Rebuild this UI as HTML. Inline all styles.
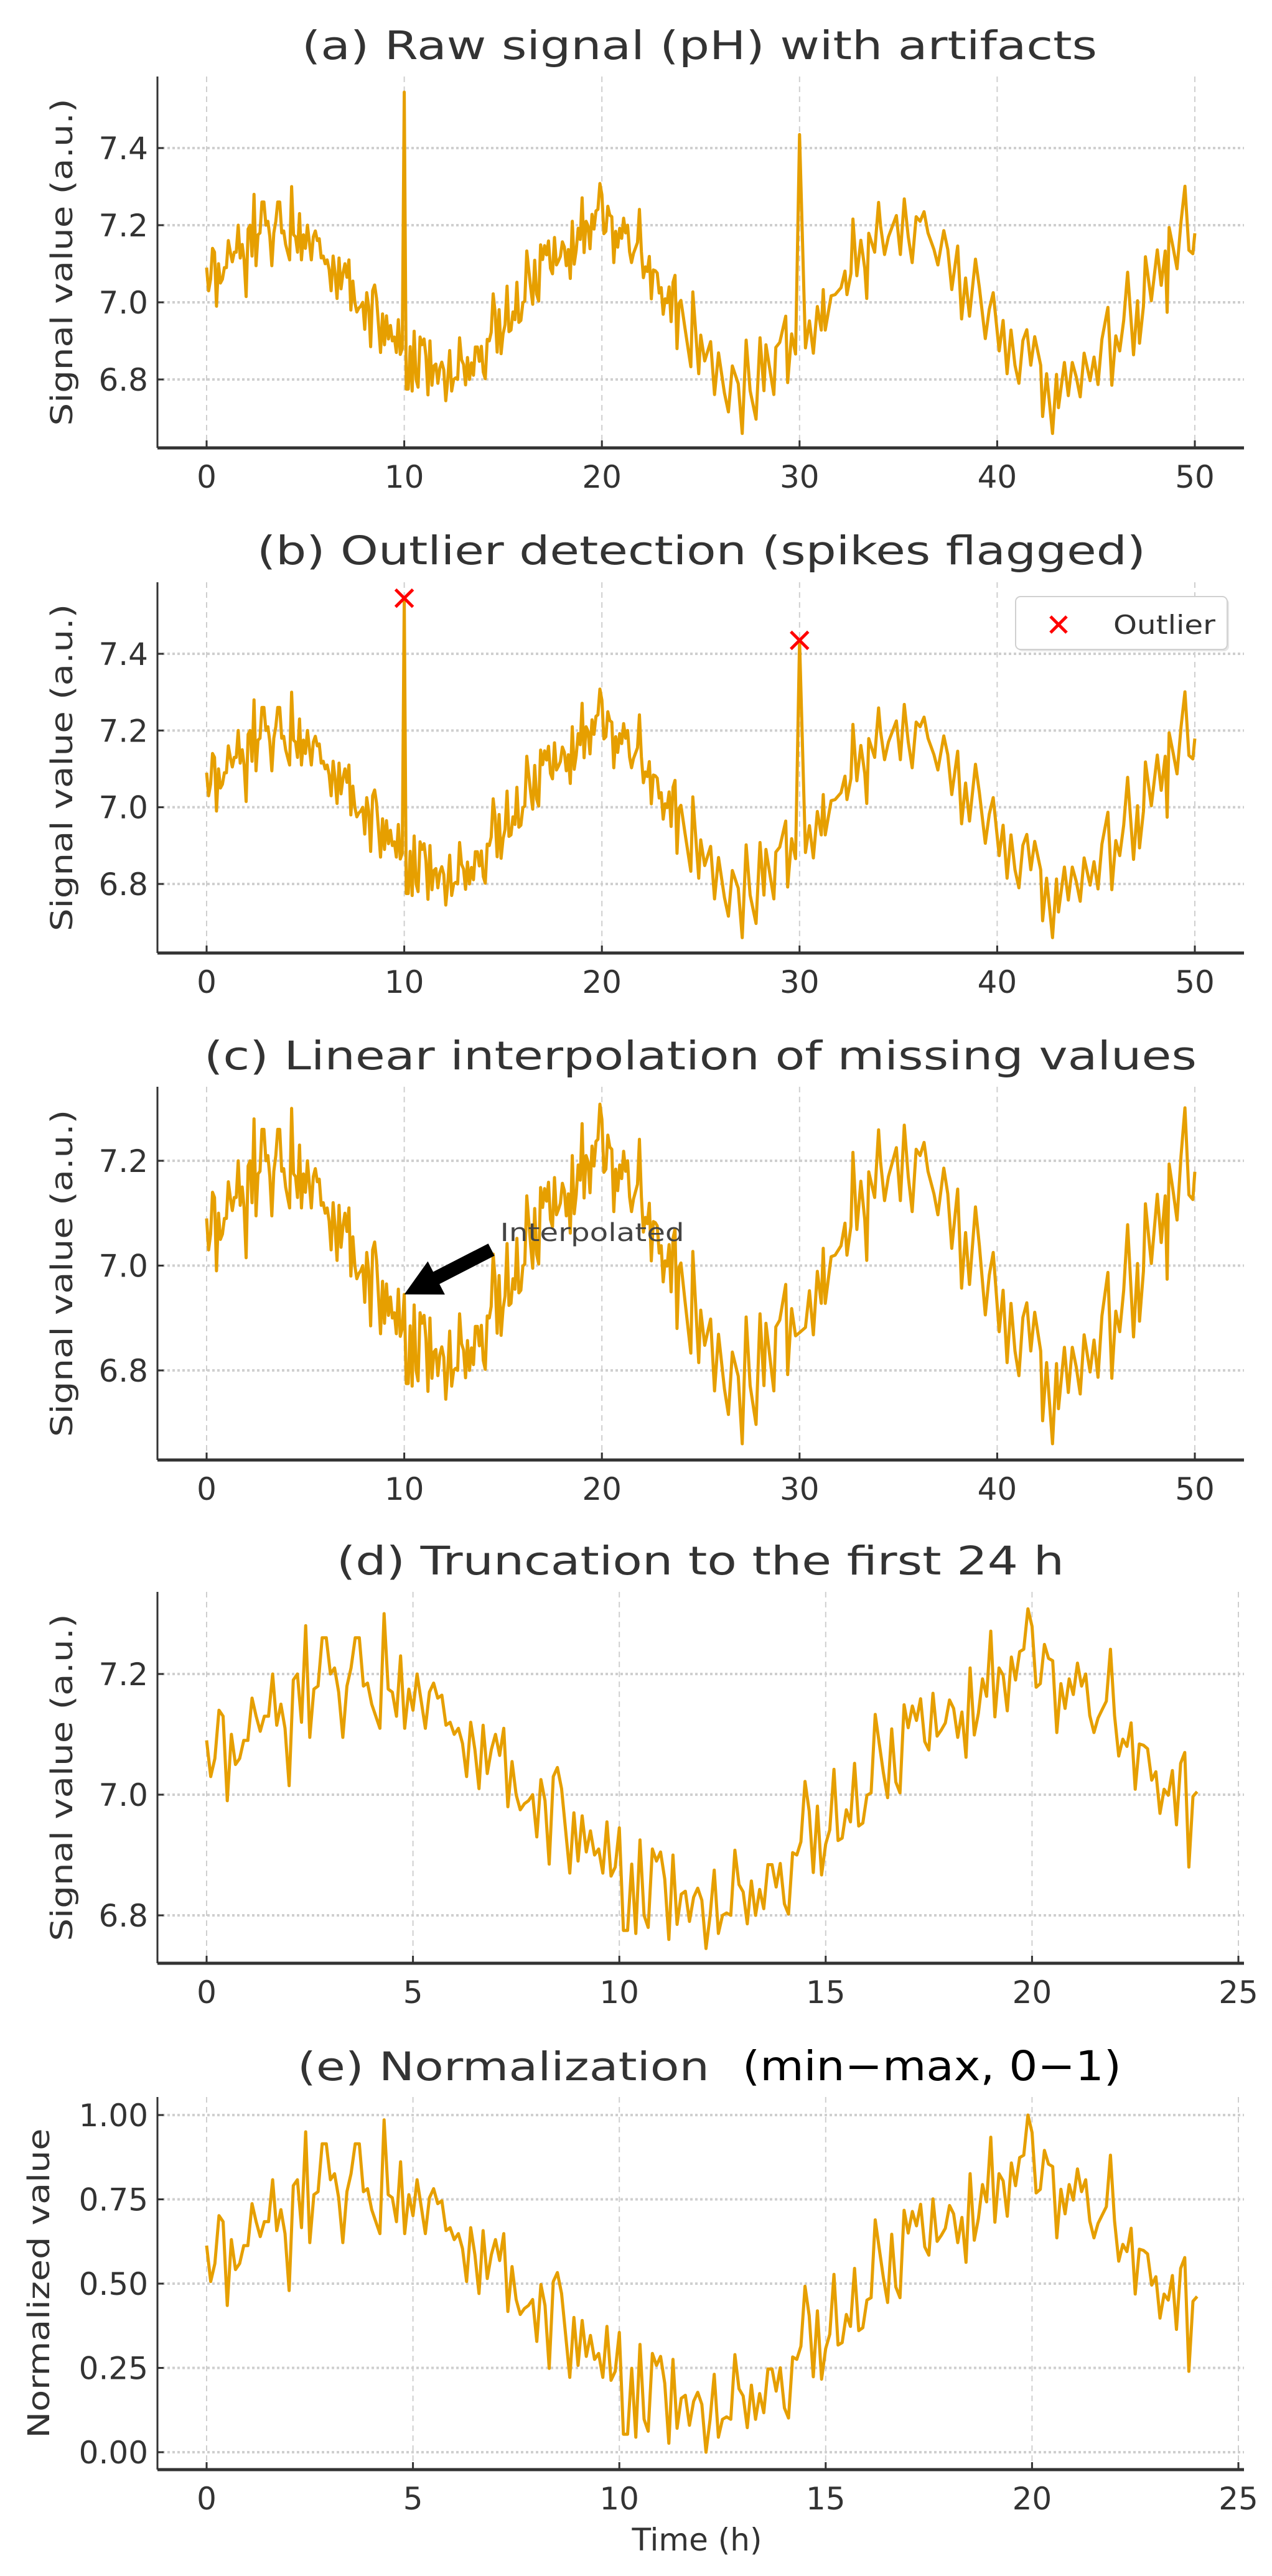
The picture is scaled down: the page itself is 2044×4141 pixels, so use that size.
<!DOCTYPE html>
<html><head><meta charset="utf-8"><style>
html,body{margin:0;padding:0;background:#fff;}
svg{display:block;}
text{font-family:"DejaVu Sans","Liberation Sans",sans-serif;}
</style></head>
<body>
<svg id="fig" xmlns="http://www.w3.org/2000/svg" width="2044" height="4141" viewBox="0 0 2044 4141">
<rect x="0" y="0" width="2044" height="4141" fill="#fff"/>
</svg>
<script>
// ---- data ----
const first24Values = [
7.09,7.03,7.06,7.14,7.13,6.99,7.10,7.05,7.06,7.09,
7.09,7.16,7.13,7.105,7.13,7.13,7.20,7.115,7.15,7.11,
7.015,7.19,7.20,7.12,7.28,7.095,7.175,7.18,7.26,7.26,
7.20,7.21,7.17,7.095,7.18,7.21,7.26,7.26,7.18,7.185,
7.15,7.13,7.11,7.30,7.175,7.17,7.13,7.23,7.11,7.175,
7.14,7.20,7.155,7.11,7.17,7.185,7.16,7.165,7.115,7.12,
7.10,7.11,7.085,7.03,7.12,7.075,7.01,7.115,7.035,7.075,
7.10,7.065,7.11,6.98,7.055,7.0,6.975,6.985,6.99,7.0,
6.93,7.025,6.99,6.885,7.03,7.045,7.01,6.94,6.87,6.97,
6.89,6.965,6.905,6.94,6.90,6.91,6.87,6.955,6.865,6.88,
6.945,
6.775,6.775,6.885,6.77,6.925,6.80,6.78,6.91,6.89,6.905,
6.86,6.76,6.90,6.785,6.835,6.84,6.79,6.83,6.845,6.825,
6.745,6.80,6.875,6.77,6.80,
6.804,6.80,6.908,6.851,6.839,6.786,6.857,6.80,6.843,6.811,
6.884,6.884,6.847,6.886,6.819,6.802,6.904,6.90,6.922,7.022,
6.973,6.871,6.981,6.867,6.918,6.942,7.042,6.924,6.928,6.975,
6.955,7.052,6.948,6.953,6.999,7.003,7.133,7.084,7.036,6.995,
7.109,7.021,7.003,7.149,7.111,7.147,7.123,7.159,7.088,7.074,
7.168,7.097,7.107,7.119,7.157,7.143,7.095,7.137,7.062,7.21,
7.099,7.135,7.192,7.163,7.271,7.129,7.21,7.198,7.139,7.228,
7.19,7.237,7.241,7.308,7.279,7.178,7.184,7.249,7.226,7.222,
7.103,7.184,7.143,7.192,7.166,7.218,7.18,7.20,7.131,7.103,
7.127,7.141,7.155,7.241,7.131,7.064,7.092,7.08,7.119,7.009,
7.084,7.082,7.076,7.024,7.038,6.969,7.009,6.999,7.04,6.95,
7.052,7.07,6.88,6.997,7.005
];
const first24Step = 0.1;
const laterHours = [24.2,24.5,24.6,24.9,25.0,25.2,25.5,25.7,25.9,26.2,26.4,26.6,26.9,27.1,27.3,27.5,27.8,28.0,28.2,28.3,28.7,28.8,29.0,29.3,29.4,29.6,29.8,30.0,30.3,30.5,30.7,30.9,31.1,31.2,31.3,31.6,31.8,32.1,32.3,32.4,32.6,32.7,32.9,33.1,33.3,33.4,33.5,33.8,34.0,34.1,34.3,34.5,34.9,35.1,35.3,35.5,35.7,35.9,36.1,36.3,36.5,36.8,37.0,37.3,37.5,37.7,38.0,38.2,38.4,38.6,38.9,39.1,39.4,39.6,39.8,40.1,40.3,40.5,40.7,40.9,41.1,41.3,41.5,41.7,41.9,42.2,42.3,42.5,42.8,43.0,43.1,43.4,43.6,43.8,44.0,44.2,44.4,44.7,44.9,45.1,45.3,45.6,45.8,46.0,46.2,46.4,46.6,46.9,47.1,47.2,47.4,47.5,47.8,48.1,48.3,48.5,48.6,48.7,48.9,49.1,49.3,49.5,49.7,49.9,50.0];
const laterValues = [6.934,6.833,7.027,6.815,6.915,6.848,6.898,6.761,6.869,6.765,6.716,6.835,6.789,6.660,6.902,6.771,6.697,6.908,6.771,6.890,6.761,6.883,6.896,6.964,6.792,6.918,6.866,6.872,6.882,6.952,6.868,6.989,6.928,7.033,6.928,7.017,7.020,7.038,7.081,7.020,7.075,7.216,7.069,7.161,7.088,7.010,7.179,7.130,7.259,7.198,7.124,7.170,7.225,7.124,7.268,7.170,7.103,7.222,7.210,7.235,7.180,7.137,7.097,7.186,7.137,7.033,7.146,6.957,7.063,6.964,7.112,7.038,6.906,6.982,7.025,6.874,6.953,6.815,6.928,6.837,6.790,6.901,6.929,6.837,6.911,6.837,6.704,6.815,6.660,6.813,6.727,6.844,6.758,6.844,6.807,6.755,6.868,6.797,6.858,6.787,6.904,6.987,6.785,6.913,6.874,6.953,7.078,6.864,7.004,6.894,6.989,7.118,7.004,7.136,7.044,7.133,6.974,7.194,7.142,7.087,7.209,7.301,7.135,7.126,7.179];
const spikeHours = [10, 30];
const spikeValues = [7.545, 7.435];
const xTicksFull = [0,10,20,30,40,50];
const xTicksDay = [0,5,10,15,20,25];
const yTicksRaw = [6.8,7.0,7.2,7.4];
const yTicksClean = [6.8,7.0,7.2];
const yTicksNorm = [0,0.25,0.5,0.75,1.0];
const yTickNormLabels = ["0.00","0.25","0.50","0.75","1.00"];
const annotHour = 10;

// ---- derived series ----
const cleanHours = first24Values.map((v,i)=>+(i*first24Step).toFixed(2)).concat(laterHours);
const cleanValues = first24Values.concat(laterValues);
const rawValues = cleanValues.map((v,i)=>{
  const k = spikeHours.findIndex(h=>Math.abs(h-cleanHours[i])<1e-6);
  return k>=0 ? spikeValues[k] : v;
});
const dayHours = cleanHours.filter(h=>h<=24.0001);
const dayValues = cleanValues.slice(0, dayHours.length);
const vmin = Math.min(...dayValues), vmax = Math.max(...dayValues);
const normValues = dayValues.map(v=>(v-vmin)/(vmax-vmin));

// ---- layout ----
const NS = "http://www.w3.org/2000/svg";
const svg = document.getElementById('fig');
const LEFT = 253, RIGHT = 1999, X0PX = 332;
const ORANGE = "#E69F00";
function mk(tag, attrs, parent){
  const e = document.createElementNS(NS, tag);
  for (const k in attrs) e.setAttribute(k, attrs[k]);
  (parent||svg).appendChild(e);
  return e;
}
const panels = [
 {id:'a', top:123, bottom:720, ya:[7.4,238], yb:[6.8,610], xmax:50, xmaxPx:1920, xt:xTicksFull, yt:yTicksRaw, yl:null,
  title:"(a) Raw signal (pH) with artifacts", tx:[485,1763], tb:95, hours:cleanHours, values:rawValues, ylabel:"Signal value (a.u.)"},
 {id:'b', top:936, bottom:1532, ya:[7.4,1051], yb:[6.8,1421], xmax:50, xmaxPx:1920, xt:xTicksFull, yt:yTicksRaw, yl:null,
  title:"(b) Outlier detection (spikes flagged)", tx:[413,1841], tb:907, hours:cleanHours, values:rawValues, ylabel:"Signal value (a.u.)"},
 {id:'c', top:1747, bottom:2347, ya:[7.2,1866], yb:[6.8,2203], xmax:50, xmaxPx:1920, xt:xTicksFull, yt:yTicksClean, yl:null,
  title:"(c) Linear interpolation of missing values", tx:[328,1923], tb:1719, hours:cleanHours, values:cleanValues, ylabel:"Signal value (a.u.)"},
 {id:'d', top:2559, bottom:3156, ya:[7.2,2691], yb:[6.8,3079], xmax:25, xmaxPx:1990, xt:xTicksDay, yt:yTicksClean, yl:null,
  title:"(d) Truncation to the first 24 h", tx:[541,1710], tb:2531, hours:dayHours, values:dayValues, ylabel:"Signal value (a.u.)"},
 {id:'e', top:3371, bottom:3970, ya:[1.0,3400], yb:[0.0,3942], xmax:25, xmaxPx:1990, xt:xTicksDay, yt:yTicksNorm, yl:yTickNormLabels,
  title:null, hours:dayHours, values:normValues, ylabel:"Normalized value"}
];

panels.forEach(p=>{
  const g = mk('g', {});
  
  
  const xs = t => X0PX + t*(p.xmaxPx - X0PX)/p.xmax;
  const k = (p.yb[1]-p.ya[1])/(p.yb[0]-p.ya[0]);
  const ys = v => p.ya[1] + (v - p.ya[0])*k;
  p.xs = xs; p.ys = ys; p.g = g;
  // grid
  p.xt.forEach(t=>{
    const l = mk('line',{x1:xs(t),x2:xs(t),y1:p.top,y2:p.bottom,stroke:'#cfcfcf','stroke-width':2,'stroke-dasharray':'9 7'},g);
    
    
  });
  p.yt.forEach(v=>{
    const l = mk('line',{x1:LEFT,x2:RIGHT,y1:ys(v),y2:ys(v),stroke:'#cfcfcf','stroke-width':4,'stroke-dasharray':'4 4'},g);
    
    
  });
  // series
  const pts = p.hours.map((h,i)=>xs(h).toFixed(1)+','+ys(p.values[i]).toFixed(1)).join(' ');
  const line = mk('polyline',{points:pts,fill:'none',stroke:ORANGE,'stroke-width':5,'stroke-linejoin':'round'},g);
  
  
  // spines
  const ls = mk('line',{x1:LEFT,x2:LEFT,y1:p.top,y2:p.bottom,stroke:'#333','stroke-width':3},g);
  
  
  const bs = mk('line',{x1:LEFT,x2:RIGHT,y1:p.bottom,y2:p.bottom,stroke:'#333','stroke-width':5},g);
  
  
  // x ticks
  p.xt.forEach(t=>{
    const tm = mk('line',{x1:xs(t),x2:xs(t),y1:p.bottom-12,y2:p.bottom,stroke:'#333','stroke-width':3},g);
    
    
    const tl = mk('text',{x:xs(t),y:p.bottom+64,'text-anchor':'middle','font-size':50,fill:'#333'},g);
    tl.textContent = String(t);
    
    
  });
  // y ticks
  p.yt.forEach((v,i)=>{
    const tm = mk('line',{x1:LEFT,x2:LEFT+10,y1:ys(v),y2:ys(v),stroke:'#333','stroke-width':3},g);
    
    
    const tl = mk('text',{x:238,y:ys(v)+18,'text-anchor':'end','font-size':50,fill:'#333'},g);
    tl.textContent = p.yl ? p.yl[i] : v.toFixed(1);
    
    
  });
  // y label
  const cy = (p.top+p.bottom)/2;
  const bx = p.id==='e' ? 79 : 116;
  const len = p.id==='e' ? 498 : 526;
  const yl = mk('text',{x:0,y:0,transform:`translate(${bx},${cy}) rotate(-90)`,'text-anchor':'middle','font-size':48,fill:'#333',textLength:len,lengthAdjust:'spacingAndGlyphs'},g);
  yl.textContent = p.ylabel;
  
  
  // title
  if (p.title){
    const t = mk('text',{x:p.tx[0],y:p.tb,'font-size':63,fill:'#333',textLength:p.tx[1]-p.tx[0],lengthAdjust:'spacingAndGlyphs'},g);
    t.textContent = p.title;
    
    
  }
});

// panel e title (two parts)
{
  const g = panels[4].g;
  const t1 = mk('text',{x:478,y:3344,'font-size':63,fill:'#333',textLength:662,lengthAdjust:'spacingAndGlyphs'},g);
  t1.textContent = "(e) Normalization";
  
  
  const t2 = mk('text',{x:1193,y:3344,'font-size':66,fill:'#000',textLength:609,lengthAdjust:'spacingAndGlyphs'},g);
  t2.textContent = "(min\u2212max, 0\u22121)";
  
  
  const xl = mk('text',{x:1120,y:4100,'text-anchor':'middle','font-size':50,fill:'#333'},g);
  xl.textContent = "Time (h)";
  
  
}

// outlier markers + legend (panel b)
{
  const p = panels[1], g = p.g;
  spikeHours.forEach((h,i)=>{
    const cx = p.xs(h), cy = p.ys(spikeValues[i]), s = 14;
    const m = mk('path',{d:`M${cx-s},${cy-s}L${cx+s},${cy+s}M${cx-s},${cy+s}L${cx+s},${cy-s}`,stroke:'#ff0000','stroke-width':5,fill:'none'},g);
    
    
  });
  const lg = mk('g',{},g);
  
  
  mk('rect',{x:1635,y:962,width:340,height:85,rx:8,fill:'#e6e6e6'},lg);
  const box = mk('rect',{x:1632,y:959,width:340,height:85,rx:8,fill:'#fff',stroke:'#d0d0d0','stroke-width':2},lg);
  
  
  const s=13, cx=1701, cy=1004;
  const lm = mk('path',{d:`M${cx-s},${cy-s}L${cx+s},${cy+s}M${cx-s},${cy+s}L${cx+s},${cy-s}`,stroke:'#ff0000','stroke-width':5},lg);
  
  
  const lt = mk('text',{x:1789,y:1019,'font-size':42,fill:'#333',textLength:164,lengthAdjust:'spacingAndGlyphs'},lg);
  lt.textContent = "Outlier";
  
  
}

// annotation (panel c)
{
  const p = panels[2], g = p.g;
  const idx = cleanHours.findIndex(h=>Math.abs(h-annotHour)<1e-6);
  const tipX = p.xs(annotHour), tipY = p.ys(cleanValues[idx]);
  const tailX = tipX + 140, tailY = tipY - 72;
  const dx = tailX - tipX, dy = tailY - tipY, L = Math.hypot(dx,dy);
  const ux = dx/L, uy = dy/L, nx = -uy, ny = ux;
  const hl = 58, hw = 30, sw = 11;
  const bx = tipX + ux*hl, by = tipY + uy*hl;
  const P = [
    [tipX,tipY],[bx+nx*hw,by+ny*hw],[bx+nx*sw,by+ny*sw],[tailX+nx*sw,tailY+ny*sw],
    [tailX-nx*sw,tailY-ny*sw],[bx-nx*sw,by-ny*sw],[bx-nx*hw,by-ny*hw]
  ].map(q=>q[0].toFixed(1)+','+q[1].toFixed(1)).join(' ');
  const ar = mk('polygon',{points:P,fill:'#000'},g);
  
  
  const at = mk('text',{x:tailX+14,y:tailY-14,'font-size':40,fill:'#444',textLength:296,lengthAdjust:'spacingAndGlyphs'},g);
  at.textContent = "Interpolated";
  
  
}
</script>
</body></html>
